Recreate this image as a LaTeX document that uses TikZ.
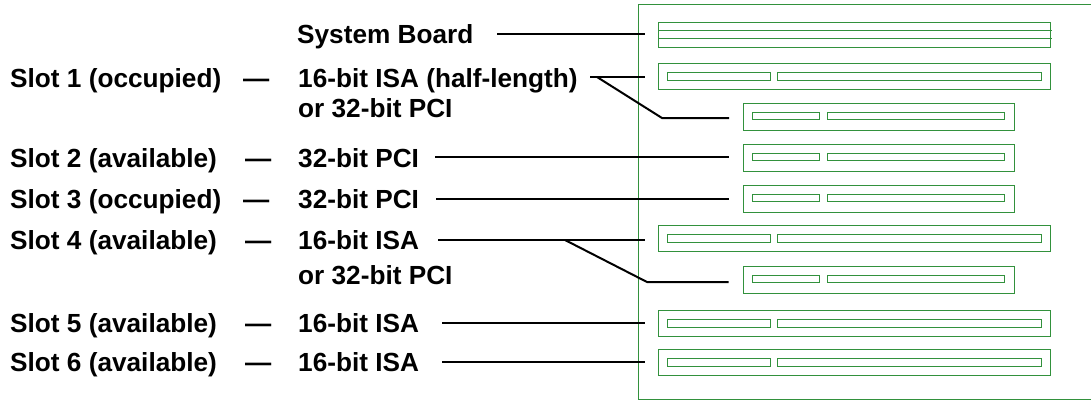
\documentclass[tikz,border=0pt]{standalone}
\usepackage{fontspec}
\setmainfont{Liberation Sans}
\definecolor{bgreen}{RGB}{50,145,60}
\tikzset{
  x=1pt,y=-1pt,
  lbl/.style={anchor=base west,inner sep=0pt,font=\bfseries\fontsize{26.2}{30}\selectfont,text=black},
  wire/.style={draw=black,line width=2pt},
  grn/.style={draw=bgreen,line width=1pt},
  longslot/.pic={
    \draw[grn] (658.5,0) rectangle (1050.5,26);
    \draw[grn] (667.5,9) rectangle (770.5,17);
    \draw[grn] (777.5,9) rectangle (1041.5,17);
  },
  shortslot/.pic={
    \draw[grn] (743.5,0) rectangle (1014.5,27);
    \draw[grn] (752.5,9) rectangle (819.5,16);
    \draw[grn] (827.5,9) rectangle (1004.5,16);
  }
}
\begin{document}
\begin{tikzpicture}
\useasboundingbox (0,0) rectangle (1091,400);
% board
\draw[grn] (1091,4.5) -- (638.5,4.5) -- (638.5,399.5) -- (1091,399.5);
% system board slot
\draw[grn] (658.5,22.5) rectangle (1050.5,47.5);
\draw[grn] (658.5,30.5) -- (1051.5,30.5);
\draw[grn] (658.5,38.5) -- (1051.5,38.5);
% slots
\pic at (0,63.5) {longslot};
\pic at (0,103.5) {shortslot};
\pic at (0,144.5) {shortslot};
\pic at (0,185.5) {shortslot};
\pic at (0,225.5) {longslot};
\pic at (0,266.5) {shortslot};
\pic at (0,310.5) {longslot};
\pic at (0,349.5) {longslot};
% labels
\node[lbl] (sys) at (297,43.5) {System Board};
\node[lbl] (s1) at (10,87) {Slot 1 (occupied)};
\node[lbl] (d1) at (243,87) {—};
\node[lbl] (t1) at (298,87) {16-bit ISA (half-length)};
\node[lbl] (t1b) at (298,117) {or 32-bit PCI};
\node[lbl] (s2) at (10,167) {Slot 2 (available)};
\node[lbl] (d2) at (245,167) {—};
\node[lbl] (t2) at (298,167) {32-bit PCI};
\node[lbl] (s3) at (10,208) {Slot 3 (occupied)};
\node[lbl] (d3) at (243,208) {—};
\node[lbl] (t3) at (298,208) {32-bit PCI};
\node[lbl] (s4) at (10,249) {Slot 4 (available)};
\node[lbl] (d4) at (245,249) {—};
\node[lbl] (t4) at (298,249) {16-bit ISA};
\node[lbl] (t4b) at (298,284) {or 32-bit PCI};
\node[lbl] (s5) at (10,332) {Slot 5 (available)};
\node[lbl] (d5) at (245,332) {—};
\node[lbl] (t5) at (298,332) {16-bit ISA};
\node[lbl] (s6) at (10,371) {Slot 6 (available)};
\node[lbl] (d6) at (245,371) {—};
\node[lbl] (t6) at (298,371) {16-bit ISA};
% wires
\coordinate (a0) at (497,34); \coordinate (b0) at (644.5,34);
\coordinate (a1) at (590,77); \coordinate (b1) at (644.5,77);
\coordinate (c1) at (597,77); \coordinate (e1) at (662,118); \coordinate (f1) at (729,118);
\coordinate (a2) at (435,157); \coordinate (b2) at (729,157);
\coordinate (a3) at (436,199); \coordinate (b3) at (729,199);
\coordinate (a4) at (438,240); \coordinate (b4) at (644.5,240);
\coordinate (c4) at (565,240); \coordinate (e4) at (647,282); \coordinate (f4) at (728.5,282);
\coordinate (a5) at (442,323); \coordinate (b5) at (644.5,323);
\coordinate (a6) at (442,362); \coordinate (b6) at (644.5,362);
\draw[wire] (a0) -- (b0);
\draw[wire] (a1) -- (b1);
\draw[wire] (c1) -- (e1) -- (f1);
\draw[wire] (a2) -- (b2);
\draw[wire] (a3) -- (b3);
\draw[wire] (a4) -- (b4);
\draw[wire] (c4) -- (e4) -- (f4);
\draw[wire] (a5) -- (b5);
\draw[wire] (a6) -- (b6);
\end{tikzpicture}
\end{document}
